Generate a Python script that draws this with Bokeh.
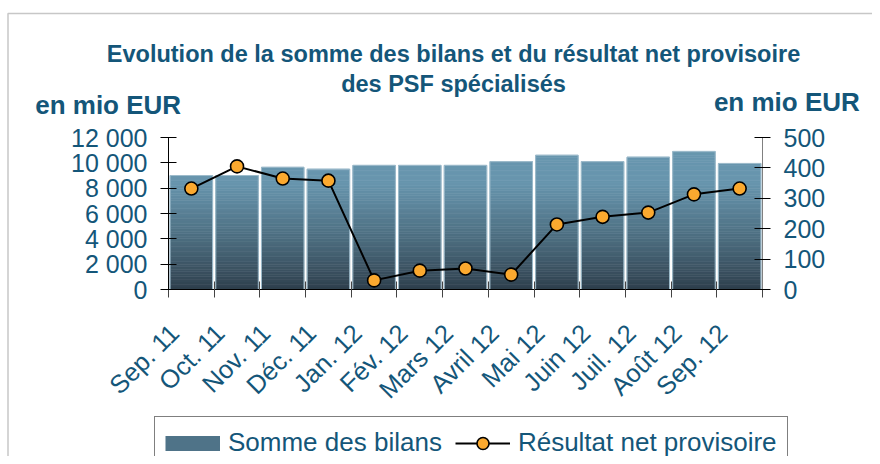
import numpy as np
from math import pi
from bokeh.plotting import figure
from bokeh.models import (Range1d, LinearAxis, FixedTicker, ColumnDataSource,
                          Legend, LegendItem, Label, BoxAnnotation)
from bokeh.core.properties import value
from bokeh.embed import file_html
from bokeh.resources import INLINE

# ---- data ----
months = ["Sep. 11", "Oct. 11", "Nov. 11", "Déc. 11", "Jan. 12", "Fév. 12", "Mars 12",
          "Avril 12", "Mai 12", "Juin 12", "Juil. 12", "Août 12", "Sep. 12"]
somme_bilans = [9000, 9000, 9650, 9500, 9800, 9800, 9800, 10100, 10600, 10100, 10450, 10900, 9950]
resultat_net = [332, 405, 365, 358, 30, 62, 69, 49, 214, 239, 253, 313, 332]
left_ticks = [0, 2000, 4000, 6000, 8000, 10000, 12000]
left_tick_labels = ["0", "2 000", "4 000", "6 000", "8 000", "10 000", "12 000"]
right_ticks = [0, 100, 200, 300, 400, 500]
title_lines = ["Evolution de la somme des bilans et du résultat net provisoire",
               "des PSF spécialisés"]
unit_label = "en mio EUR"
series_names = ["Somme des bilans", "Résultat net provisoire"]

TXT = "#145679"
FONT = "Liberation Sans"

# ---- geometry (pixels) ----
W, H = 872, 456
FL, FR, FT, FB = 168, 762, 137, 289      # where the value area sits on the canvas
n = len(months)
LMAX, RMAX = 12000, 500
ux = (FR - FL) / n
x0, x1 = -FL / ux, (W - FL) / ux
ly = LMAX / (FB - FT)
ry = RMAX / (FB - FT)

xc = np.arange(n) + 0.5  # category centres

p = figure(x_range=Range1d(x0, x1), y_range=Range1d((FB - H) * ly, FB * ly),
           width=W, height=H, output_backend="svg", toolbar_location=None,
           x_axis_location=None, y_axis_location=None,
           min_border=0, min_border_left=0, min_border_right=0,
           min_border_top=0, min_border_bottom=0)
p.xgrid.visible = False
p.ygrid.visible = False
p.outline_line_color = None
p.background_fill_color = "white"
p.border_fill_color = "white"
p.extra_y_ranges = {"right": Range1d((FB - H) * ry, FB * ry)}

# ---- gradient bars (horizontal bands) ----
dark = np.array([0x2D, 0x3D, 0x4A])
light = np.array([0x68, 0x96, 0xAE])
band = 200
xs, tops, bottoms, cols = [], [], [], []
for b0 in range(0, LMAX, band):
    b1 = b0 + band
    t = min(1.0, (b0 + band / 2) / 8500.0) ** 0.85
    c = dark + (light - dark) * t
    col = "#%02x%02x%02x" % tuple(int(round(v)) for v in c)
    for x, v in zip(xc, somme_bilans):
        if v > b0:
            xs.append(x); bottoms.append(b0); tops.append(min(v, b1)); cols.append(col)
bsrc = ColumnDataSource(dict(x=xs, top=tops, bottom=bottoms, color=cols))
p.vbar(x="x", top="top", bottom="bottom", width=0.93, source=bsrc,
       fill_color="color", line_color="color", line_width=0.6)
p.vbar(x=xc, top=somme_bilans, width=0.93, fill_color=None,
       line_color="#9DBBCB", line_width=1)
# legend swatch for the bars: a thick line placed outside the visible x range
leg_bar = p.line(x=[x0 - 20, x0 - 19], y=[0, 0], line_color="#4F7388",
                 line_width=15, line_cap="butt")

# ---- line ----
lr = p.line(xc, resultat_net, y_range_name="right", line_color="black", line_width=2)
sr = p.scatter(xc, resultat_net, y_range_name="right", size=13, marker="circle",
               fill_color="#FBA92F", line_color="black", line_width=1.6)

# ---- axes (fixed in place inside the canvas) ----
def style_labels(ax, size="25px"):
    ax.major_label_text_color = TXT
    ax.major_label_text_font = FONT
    ax.major_label_text_font_size = size

lax = LinearAxis(ticker=FixedTicker(ticks=left_ticks), fixed_location=0, bounds=(0, LMAX),
                 major_label_overrides={t: l for t, l in zip(left_ticks, left_tick_labels)},
                 major_tick_in=8, major_tick_out=8, minor_tick_line_color=None,
                 axis_line_color="black", major_tick_line_color="black",
                 major_label_standoff=13)
style_labels(lax)
p.add_layout(lax, "left")

rax = LinearAxis(y_range_name="right", ticker=FixedTicker(ticks=right_ticks),
                 fixed_location=n, bounds=(0, RMAX),
                 major_tick_in=8, major_tick_out=8, minor_tick_line_color=None,
                 axis_line_color="#808080", major_tick_line_color="black",
                 major_label_standoff=13)
style_labels(rax)
p.add_layout(rax, "right")

tax = LinearAxis(ticker=FixedTicker(ticks=list(range(n + 1))), fixed_location=0,
                 bounds=(0, n), major_tick_in=8, major_tick_out=8,
                 minor_tick_line_color=None, axis_line_color="black",
                 major_tick_line_color="#444444",
                 major_label_overrides={i: "" for i in range(n + 1)},
                 major_label_text_font_size="1px", major_label_standoff=0)
p.add_layout(tax, "below")

# month labels, rotated 45 degrees, ending under each category
p.text(x=xc, y=[0] * n, text=months, angle=pi / 4, text_align="right",
       text_baseline="alphabetic", x_offset=-17, y_offset=39,
       text_font=value(FONT), text_font_size="25.5px", text_color=TXT)

# ---- texts ----
for txt, yb in zip(title_lines, [53.3, 83.3]):
    p.add_layout(Label(x=453, y=H - yb, x_units="screen", y_units="screen", text=txt,
                       text_align="center", text_baseline="alphabetic", text_font=FONT,
                       text_font_style="bold", text_font_size="23.5px", text_color=TXT))
p.add_layout(Label(x=34.7, y=H - 104.3, x_units="screen", y_units="screen", text=unit_label,
                   text_align="left", text_baseline="alphabetic", text_font=FONT,
                   text_font_style="bold", text_font_size="26px", text_color=TXT))
p.add_layout(Label(x=859.3, y=H - 101.7, x_units="screen", y_units="screen", text=unit_label,
                   text_align="right", text_baseline="alphabetic", text_font=FONT,
                   text_font_style="bold", text_font_size="26px", text_color=TXT))

# outer frame (top + left border)
p.add_layout(BoxAnnotation(left=7.5, right=3000, top=H - 13, bottom=-3000,
                           left_units="screen", right_units="screen", top_units="screen",
                           bottom_units="screen", fill_color=None, fill_alpha=0,
                           line_color="#444444", line_width=1.5))

# ---- legend ----
legend = Legend(items=[LegendItem(label=series_names[0], renderers=[leg_bar]),
                       LegendItem(label=series_names[1], renderers=[lr, sr])],
                orientation="horizontal", location=(154, H - 469),
                glyph_width=55, glyph_height=30, label_standoff=8, spacing=13,
                padding=10, margin=0, border_line_color="black", border_line_width=1,
                background_fill_color="white", background_fill_alpha=1,
                label_text_font=FONT, label_text_font_size="26px", label_text_color=TXT)
p.add_layout(legend, "center")

open("out.html", "w").write(file_html(p, INLINE))
